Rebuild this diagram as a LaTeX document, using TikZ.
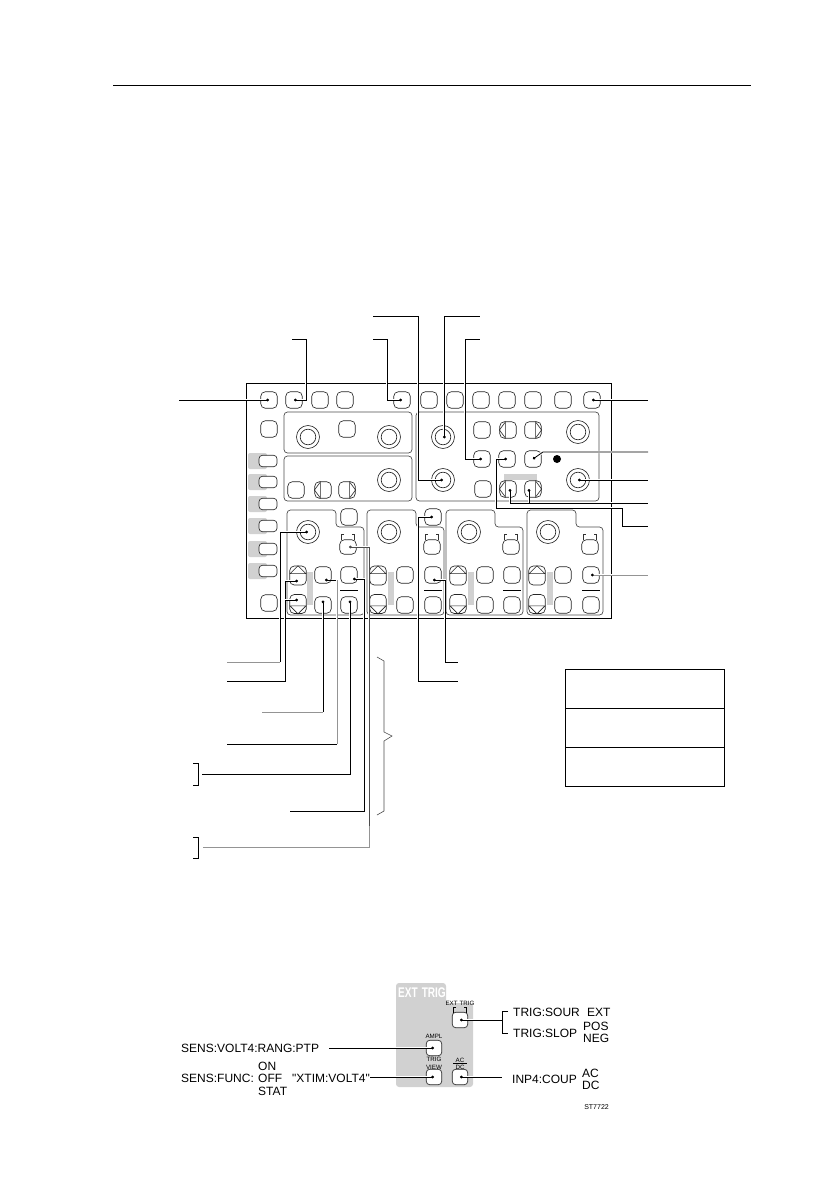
\documentclass[tikz,border=0pt]{standalone}
\usepackage{fontspec}
\setmainfont{Liberation Sans}
\newfontfamily\straightquote{Liberation Sans}
\usetikzlibrary{arrows.meta,calc}
\definecolor{pale}{gray}{0.82}
\definecolor{soft}{gray}{0.58}
\tikzset{
  x=1pt,y=-1pt,
  btn/.style={draw=black!85,line width=0.65pt,fill=white,rounded corners=4.5pt,minimum width=16.5pt,minimum height=16.5pt,inner sep=0pt},
  tallbtn/.style={btn,minimum height=19pt},
  flatbtn/.style={btn,rounded corners=3.5pt,minimum width=18pt,minimum height=11.5pt},
  lowbtn/.style={btn,minimum height=14.5pt},
  knobout/.style={draw=black!85,line width=0.65pt,circle,minimum size=23pt,inner sep=0pt,fill=white},
  groupbox/.style={draw=black!70,line width=0.7pt,rounded corners=3.5pt},
  halo/.style={preaction={draw=white,line width=2.2pt,-}},
  lead/.style={halo,draw=black,line width=0.8pt,{Circle[length=2.8pt,width=2.8pt]}-},
  softlead/.style={lead,draw=soft,{Circle[length=2.8pt,width=2.8pt,black]}-},
  plain lead/.style={draw=black,line width=0.8pt},
  pale lead/.style={halo,draw=soft,line width=0.9pt},
  lab/.style={anchor=base west,inner sep=0pt,font=\fontsize{12}{12}\selectfont},
  tiny/.style={anchor=center,inner sep=0pt,font=\fontsize{6.2}{6.2}\selectfont},
}
\newcommand\knob[2]{\node[knobout] (#1) at (#2) {}; \draw[black!85,line width=0.65pt] (#1.center) circle (7.8);}
\newcommand\leftbtn[2]{\node[btn] (#1) at (#2) {}; \draw[black!85,line width=0.6pt] (#1.west) -- ++(6,-8) -- ++(0,16) -- cycle;}
\newcommand\rightbtn[2]{\node[btn] (#1) at (#2) {}; \draw[black!85,line width=0.6pt] (#1.east) -- ++(-6,-8) -- ++(0,16) -- cycle;}
\begin{document}
\begin{tikzpicture}
\useasboundingbox (0,0) rectangle (838,1189);
% header
\draw[line width=0.8pt] (113,85) -- (751,85);
% panel
\draw[line width=0.9pt] (246,383) rectangle (611,618);
% left stack with grey tabs
\foreach \n/\y in {1/461,2/482,3/504,4/526,5/549,6/571}{
  \fill[pale,rounded corners=2pt] (248,\y-8) rectangle (267,\y+8);
  \node[flatbtn] (st\n) at (268,\y) {};
}
% top row
\foreach \n/\x in {a/269,b/294,c/320,d/345,e/402,f/429,g/455,h/481,i/507,j/533,k/563,l/592}{
  \node[btn] (top\n) at (\x,400) {};
}
\node[btn] (left2) at (269,429) {};
\node[btn] (left3) at (269,603) {};
% group boxes
\draw[groupbox] (284,412) rectangle (412,453);
\draw[groupbox] (284,456) rectangle (412,501);
\draw[groupbox] (416,412) rectangle (599,501);
\knob{ka}{308,437}
\knob{kb}{389,437}
\node[btn] (ba) at (347,429) {};
\node[btn] (bb) at (296,490) {};
\leftbtn{bc}{323,490}
\rightbtn{bd}{347,490}
\knob{kc}{389,480}
% right group
\knob{kd}{443,437}
\knob{ke}{443,480}
\knob{kf}{578,432}
\knob{kg}{578,480}
\node[btn] (ra) at (482,430) {};
\leftbtn{rb}{508,430}
\rightbtn{rc}{533,430}
\node[btn] (rd) at (482,459) {};
\node[btn] (re) at (507,459) {};
\node[btn] (rf) at (533,459) {};
\fill (557,459) circle (4);
\fill[pale] (504,474) rectangle (537,480);
\node[btn] (rg) at (483,489) {};
\leftbtn{rh}{508,489}
\rightbtn{ri}{533,489}
% channels
\draw[groupbox] (287,615) -- (287,510) -- (336,510) -- (336,527) -- (364,527) -- (364,615) -- cycle;
\draw[groupbox] (367,615) -- (367,510) -- (416,510) -- (416,527) -- (444,527) -- (444,615) -- cycle;
\draw[groupbox] (446,615) -- (446,510) -- (495,510) -- (495,527) -- (523,527) -- (523,615) -- cycle;
\draw[groupbox] (527,615) -- (527,510) -- (576,510) -- (576,527) -- (603,527) -- (603,615) -- cycle;
\node[btn] (cha) at (349,517) {};
\node[btn] (chb) at (433,517) {};
\foreach \c/\kx/\ux/\mx/\rx in {1/308/298/323/349,2/389/378/405/433,3/469/458/485/512,4/548/537/563/591}{
  \fill[pale] (\kx-1,572) rectangle (\kx+5,605);
  \knob{ck\c}{\kx,532}
  \node[tallbtn] (up\c) at (\ux,575.5) {};
  \draw[black!85,line width=0.6pt] (up\c.north) -- ++(-8,8) -- ++(16,0) -- cycle;
  \node[tallbtn] (dn\c) at (\ux,604) {};
  \draw[black!85,line width=0.6pt] (dn\c.south) -- ++(-8,-8) -- ++(16,0) -- cycle;
  \node[btn] (mu\c) at (\mx,575) {};
  \node[btn] (md\c) at (\mx,605) {};
  \node[btn] (ru\c) at (\rx,575) {};
  \node[btn] (rd\c) at (\rx,605) {};
  \node[lowbtn] (br\c) at (\rx-1,547) {};
  \draw[line width=0.55pt,black!80] (\rx-5,534.5) -- (\rx-7.5,534.5) -- (\rx-7.5,539.5);
  \draw[line width=0.55pt,black!80] (\rx+3,534.5) -- (\rx+5.5,534.5) -- (\rx+5.5,539.5);
  \draw[line width=0.7pt] (\rx-9,590) -- (\rx+9,590);
}
% free ends
\coordinate (eA) at (179,400);
\coordinate (eB) at (292,339);
\coordinate (eC) at (373,339);
\coordinate (eD) at (373,316);
\coordinate (eE) at (480,316);
\coordinate (eF) at (480,339);
\coordinate (eG) at (648,400);
\coordinate (eH) at (648,452);
\coordinate (eI) at (648,480);
\coordinate (eJ) at (648,503);
\coordinate (eK) at (648,526);
\coordinate (eL) at (648,575);
\coordinate (eM) at (458,681);
\coordinate (eN) at (458,662);
\coordinate (eO) at (227,662);
\coordinate (eP) at (227,681);
\coordinate (eQ) at (262,712);
\coordinate (eR) at (227,744);
\coordinate (eS) at (202,774);
\coordinate (eT) at (290,811);
\coordinate (eU) at (203,847);
% leaders
\draw[lead] (topa.center) -- (eA);
\draw[lead] (topb.center) -- (306,400) -- (306,339) -- (eB);
\draw[lead] (tope.center) -- (387,400) -- (387,339) -- (eC);
\draw[lead] (ke.center) -- (418,480) -- (418,316) -- (eD);
\draw[lead] (kd.center) -- (444,437) -- (444,316) -- (eE);
\draw[lead] (rd.center) -- (465,459) -- (465,339) -- (eF);
\draw[lead] (topl.center) -- (eG);
\draw[lead] (rf.center) -- (543,452) -- (eH);
\draw[lead] (kg.center) -- (eI);
\draw[lead] ([xshift=2pt]rh.center) -- (510,503) -- (eJ);
\draw[lead] ([xshift=-4pt]ri.center) -- (529,503);
\draw[lead] (re.center) -- (496,459) -- (496,508) -- (622,508) -- (622,526) -- (eK);
\draw[softlead] (ru4.center) -- (eL);
\draw[lead] (chb.center) -- (418,517) -- (418,681) -- (eM);
\draw[lead] ([yshift=-5pt]ru2.center) -- (445,580) -- (445,662) -- (eN);
\draw[lead] (ck1.center) -- (280,532) -- (280,662);
\draw[pale lead] (280,662) -- (eO);
\draw[lead] ([yshift=-5.5pt]up1.center) -- (285,581) -- (285,681) -- (eP);
\draw[lead] ([yshift=4pt]dn1.center) -- (285,600);
\draw[lead] ([yshift=4.5pt]md1.center) -- (323,712);
\draw[pale lead] (323,712) -- (eQ);
\draw[plain lead,{Circle[length=2.8pt,width=2.8pt]}-] ([shift={(2,5)}]mu1.center) -- (337,580);
\draw[pale lead] (337,580) -- (337,744);
\draw[plain lead] (337,744) -- (eR);
\draw[lead] ([shift={(1,-4.5)}]rd1.center) -- (350,774) -- (eS);
\draw[lead] ([shift={(4,4)}]ru1.center) -- (364,579) -- (364,811) -- (eT);
\draw[lead,draw=black!70] ([xshift=1pt]br1.center) -- (369,547) -- (369,826);
\draw[pale lead] (369,826) -- (369,847) -- (eU);
% brackets and brace
\draw[plain lead] (193,763) -- (198,763) -- (198,785) -- (193,785);
\draw[plain lead] (193,837) -- (198,837) -- (198,858) -- (193,858);
\draw[line width=0.6pt,black!70] (377,657) -- (384,661) -- (384,732) -- (392,736) -- (384,741) -- (384,811) -- (377,815);
% table
\draw[line width=0.8pt] (565,669) rectangle (724,786);
\draw[line width=0.8pt] (565,708) -- (724,708);
\draw[line width=0.8pt] (565,747) -- (724,747);
% lower detail
\fill[pale,rounded corners=3pt] (396,983) -- (446,983) -- (446,1003) -- (473,1003) -- (473,1087) -- (396,1087) -- cycle;
\node[inner sep=0pt,text=white,font=\fontsize{14}{14}\selectfont\bfseries] (xtit) at (422,993) {\addfontfeature{FakeStretch=0.72}EXT\hspace{4pt}TRIG};
\node[btn,minimum size=15.5pt,rounded corners=3.5pt] (xa) at (460,1020) {};
\node[btn,minimum size=15.5pt,rounded corners=3.5pt] (xb) at (434,1048) {};
\node[btn,minimum size=15.5pt,rounded corners=3.5pt] (xc) at (434,1077) {};
\node[btn,minimum size=15.5pt,rounded corners=3.5pt] (xd) at (460,1077) {};
\node[tiny] (xl1) at (460,1003) {EXT\hspace{2pt}TRIG};
\draw[line width=0.5pt] (456,1007) -- (453.5,1007) -- (453.5,1012.5);
\draw[line width=0.5pt] (464,1007) -- (466.5,1007) -- (466.5,1012.5);
\node[tiny] (xl2) at (434,1036) {AMPL};
\node[tiny] (xl3) at (434,1059) {TRIG};
\node[tiny] (xl4) at (434,1067) {VIEW};
\node[tiny] (xl5) at (460,1060) {AC};
\node[tiny] (xl6) at (460,1067) {DC};
\draw[line width=0.5pt] (453,1063.5) -- (467,1063.5);
\node[lab] (t1) at (181,1052) {SENS:VOLT4:RANG:PTP};
\node[lab] (t2) at (181,1082) {SENS:FUNC:};
\node[lab] (t3) at (258,1070) {ON};
\node[lab] (t4) at (258,1082) {OFF};
\node[lab] (t5) at (258,1095) {STAT};
\node[lab] (t6) at (292,1082) {\straightquote "XTIM:VOLT4"};
\node[lab] (t7) at (513,1016) {TRIG:SOUR};
\node[lab] (t8) at (587,1016) {EXT};
\node[lab] (t9) at (513,1037) {TRIG:SLOP};
\node[lab] (t10) at (583,1030) {POS};
\node[lab] (t11) at (583,1042) {NEG};
\node[lab] (t12) at (512,1083) {INP4:COUP};
\node[lab] (t13) at (582,1077) {AC};
\node[lab] (t14) at (582,1089) {DC};
\node[anchor=base east,inner sep=0pt,font=\fontsize{7}{7}\selectfont] (t15) at (609,1109.5) {ST7722};
\coordinate (e1) at (329,1048);
\coordinate (e2) at (370,1077);
\coordinate (e3) at (502,1077);
\coordinate (e4) at (502,1020);
\draw[lead] (xb.center) -- (e1);
\draw[lead] (xc.center) -- (e2);
\draw[lead] (xd.center) -- (e3);
\draw[lead] (xa.center) -- (e4);
\draw[plain lead] (508,1011) -- (502,1011) -- (502,1033) -- (508,1033);
\end{tikzpicture}
\end{document}
